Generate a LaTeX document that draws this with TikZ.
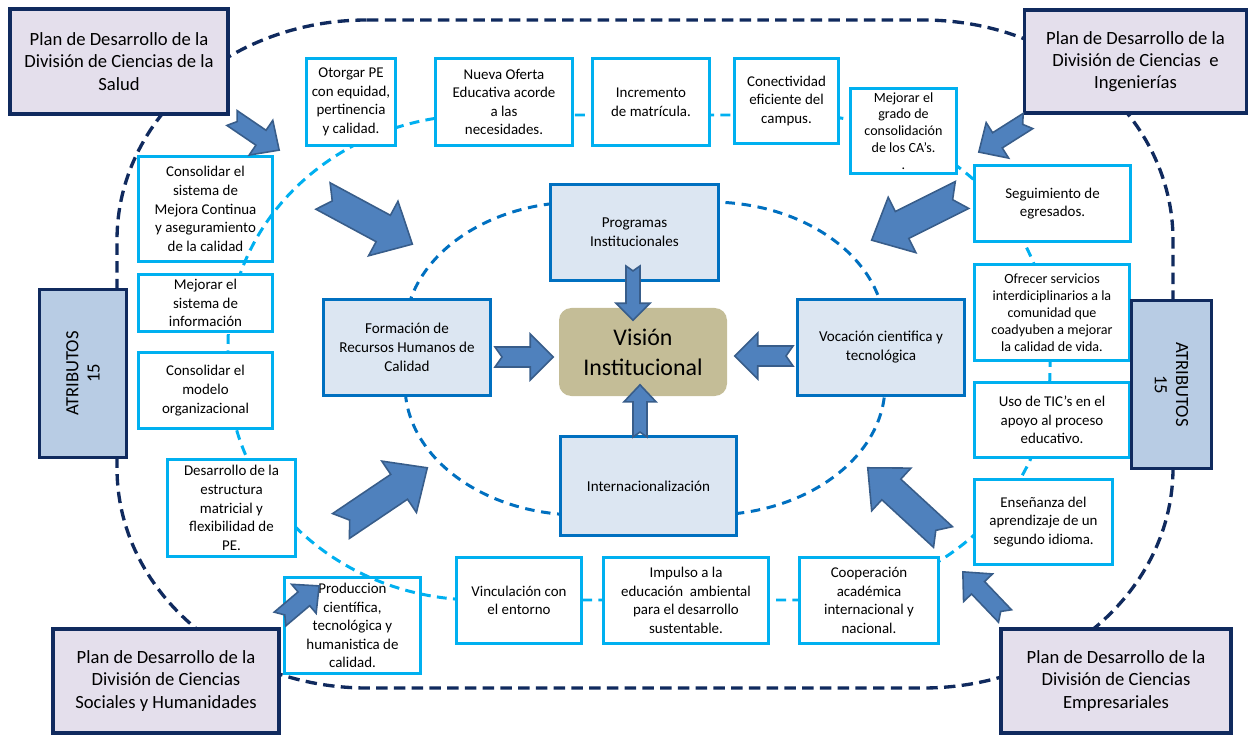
\documentclass[tikz,border=0pt]{standalone}
\usepackage{fontspec}
\setmainfont{Carlito}
\usetikzlibrary{calc}

\definecolor{navy}{HTML}{102A5E}
\definecolor{lavender}{HTML}{E4DFEC}
\definecolor{steel}{HTML}{B8CCE4}
\definecolor{skyline}{HTML}{00B0F0}
\definecolor{ejeline}{HTML}{0070C0}
\definecolor{ejefill}{HTML}{DCE6F2}
\definecolor{khaki}{HTML}{C4BD97}
\definecolor{arrfill}{HTML}{4F81BD}
\definecolor{arredge}{HTML}{385D8A}

\newcommand{\ovalframe}[7]{%
  \draw[#1] ({#2+#6},#3) -- ({#4-#6},#3)
    .. controls ({#4-0.448*#6},#3) and (#4,{#3+0.448*#7}) .. (#4,{#3+#7})
    -- (#4,{#5-#7})
    .. controls (#4,{#5-0.448*#7}) and ({#4-0.448*#6},#5) .. ({#4-#6},#5)
    -- ({#2+#6},#5)
    .. controls ({#2+0.448*#6},#5) and (#2,{#5-0.448*#7}) .. (#2,{#5-#7})
    -- (#2,{#3+#7})
    .. controls (#2,{#3+0.448*#7}) and ({#2+0.448*#6},#3) .. ({#2+#6},#3) -- cycle;}

\newcommand{\blockarrow}[5]{%
  \path let \p1=($(#2)-(#1)$) in
    \pgfextra{\pgfmathparse{atan2(\y1,\x1)}\xdef\arrang{\pgfmathresult}%
      \pgfmathparse{veclen(\x1,\y1)/0.56693}\xdef\arrlen{\pgfmathresult}};
  \begin{scope}[shift={(#1)}, rotate=\arrang]
    \draw[fatarr] (0,#3) -- ({\arrlen-#5},#3) -- ({\arrlen-#5},#4) -- (\arrlen,0)
      -- ({\arrlen-#5},-#4) -- ({\arrlen-#5},-#3) -- (0,-#3) -- ({0.7*#3},0) -- cycle;
  \end{scope}}

\begin{document}
\begin{tikzpicture}[x=0.02cm, y=-0.02cm,
    sz/.style 2 args={minimum width=#1*0.02cm, minimum height=#2*0.02cm},
    plan/.style={draw=navy, line width=1.9pt, fill=lavender, align=center, inner sep=1pt,
      font=\fontsize{10.6}{12.6}\selectfont},
    attr/.style={draw=navy, line width=1.9pt, fill=steel, align=center, inner sep=1pt,
      font=\fontsize{10.6}{12}\selectfont},
    meta/.style={draw=skyline, line width=1.7pt, fill=white, align=center, inner sep=1pt,
      font=\fontsize{8.5}{10.6}\selectfont},
    eje/.style={draw=ejeline, line width=1.7pt, fill=ejefill, align=center, inner sep=1pt,
      font=\fontsize{8.6}{10.8}\selectfont},
    vision/.style={fill=khaki, rounded corners=7pt, align=center, inner sep=1pt,
      font=\fontsize{13.6}{17}\selectfont},
    navyframe/.style={draw=navy, line width=1.9pt, dash pattern=on 6.5pt off 3.6pt},
    skyframe/.style={draw=skyline, line width=1.7pt, dash pattern=on 5.6pt off 3.6pt},
    ejeframe/.style={draw=ejeline, line width=1.7pt, dash pattern=on 5.4pt off 3.8pt},
    fatarr/.style={fill=arrfill, draw=arredge, line width=0.9pt, line join=miter}]
  \useasboundingbox (0,0) rectangle (1250,736);

  \ovalframe{navyframe}{117}{20}{1173}{688}{250}{220}
  \ovalframe{ejeframe}{405}{202}{885}{515}{175}{130}

  \node[meta, sz={134}{105}] (calidad) at (205.5,209) {Consolidar el\\sistema de\\Mejora Continua\\y aseguramiento\\de la calidad};
  \node[meta, sz={136}{96}] (produccion) at (352.5,625.5) {Produccion\\científica,\\tecnológica y\\humanistica de\\calidad.};

  \ovalframe{skyframe}{228}{115}{1050}{600}{250}{230}

  \node[meta, sz={89}{87}] (otorgar) at (351,102) {Otorgar PE\\con equidad,\\pertinencia\\y calidad.};
  \node[meta, sz={137}{87}] (oferta) at (504,102) {Nueva Oferta\\Educativa acorde\\a las\\necesidades.};
  \node[meta, sz={117}{87}] (matricula) at (651,102) {Incremento\\de matrícula.};
  \node[meta, sz={104}{85}] (campus) at (786.5,101) {Conectividad\\eficiente del\\campus.};
  \node[meta, sz={106}{85}, font=\fontsize{8}{9.6}\selectfont] (cuerpos) at (903.5,131) {Mejorar el\\grado de\\consolidación\\de los CA’s.\\.};
  \node[meta, sz={156}{76}] (egresados) at (1052.5,203.5) {Seguimiento de\\egresados.};
  \node[meta, sz={155}{96}, font=\fontsize{8}{9.6}\selectfont] (servicios) at (1052,312.5) {Ofrecer servicios\\interdiciplinarios a la\\comunidad que\\coadyuben a mejorar\\la calidad de vida.};
  \node[meta, sz={155}{75}] (tic) at (1052,420) {Uso de TIC’s en el\\apoyo al proceso\\educativo.};
  \node[meta, sz={138}{85}] (idioma) at (1043.5,522) {Enseñanza del\\aprendizaje de un\\segundo idioma.};
  \node[meta, sz={139}{86}] (cooperacion) at (869,600.5) {Cooperación\\académica\\internacional y\\nacional.};
  \node[meta, sz={165}{86}] (ambiental) at (686,600.5) {Impulso a la\\educación~ ambiental\\para el desarrollo\\sustentable.};
  \node[meta, sz={125}{86}] (vinculacion) at (519,600.5) {Vinculación con\\el entorno};
  \node[meta, sz={128}{97}] (matricial) at (231.5,508) {Desarrollo de la\\estructura\\matricial y\\flexibilidad de\\PE.};
  \node[meta, sz={134}{76}] (modelo) at (205.5,390.5) {Consolidar el\\modelo\\organizacional};
  \node[meta, sz={134}{57}] (informacion) at (205.5,303) {Mejorar el\\sistema de\\información};

  \node[plan, sz={218}{105}] (salud) at (119,61.5) {Plan de Desarrollo de la\\División de Ciencias de la\\Salud};
  \node[plan, sz={222}{103}] (ingenierias) at (1135.5,61.5) {Plan de Desarrollo de la\\División de Ciencias~ e\\Ingenierías};
  \node[plan, sz={226}{104}] (sociales) at (166,681) {Plan de Desarrollo de la\\División de Ciencias\\Sociales y Humanidades};
  \node[plan, sz={230}{104}] (empresariales) at (1116,681) {Plan de Desarrollo de la\\División de Ciencias\\Empresariales};
  \node[attr, rotate=90, sz={168}{87}] (atribizq) at (83,373.5) {ATRIBUTOS\\15};
  \node[attr, rotate=-90, sz={168}{80}] (atribder) at (1171.5,384.5) {ATRIBUTOS\\15};

  \node[eje, sz={168}{96}] (programas) at (634.5,232.5) {Programas\\Institucionales};
  \node[eje, sz={167}{96}] (formacion) at (407,347.5) {Formación de\\Recursos Humanos de\\Calidad};
  \node[eje, sz={167}{96}] (vocacion) at (881,347.5) {Vocación cientifica y\\tecnológica};
  \node[eje, sz={176}{99}] (internac) at (648.5,486) {Internacionalización};
  \node[vision, sz={168}{88}] (vis) at (643,352) {Visión\\Institucional};

  \coordinate (a1s) at (232,118);  \coordinate (a1e) at (279,150);
  \coordinate (a2s) at (323,196);  \coordinate (a2e) at (412,244);
  \coordinate (a3s) at (1028,121); \coordinate (a3e) at (979,152);
  \coordinate (a4s) at (962,195);  \coordinate (a4e) at (872,240);
  \coordinate (a5s) at (341,526);  \coordinate (a5e) at (427,468);
  \coordinate (a6s) at (280,619);  \coordinate (a6e) at (319,586);
  \coordinate (a7s) at (943,537);  \coordinate (a7e) at (868,468);
  \coordinate (a8s) at (1005,616); \coordinate (a8e) at (963,572);
  \coordinate (p1s) at (633,266);  \coordinate (p1e) at (633,320);
  \coordinate (p2s) at (495,357);  \coordinate (p2e) at (553,357);
  \coordinate (p3s) at (793,356);  \coordinate (p3e) at (735,356);
  \coordinate (p4s) at (640,437);  \coordinate (p4e) at (640,385);

  \blockarrow{a1s}{a1e}{9}{21}{22}
  \blockarrow{a2s}{a2e}{15}{31}{33}
  \blockarrow{a3s}{a3e}{9}{21}{22}
  \blockarrow{a4s}{a4e}{15}{31}{34}
  \blockarrow{a5s}{a5e}{15}{31}{34}
  \blockarrow{a6s}{a6e}{9}{19}{20}
  \blockarrow{a7s}{a7e}{14}{29}{32}
  \blockarrow{a8s}{a8e}{9}{20}{22}
  \blockarrow{p1s}{p1e}{7}{17}{17}
  \blockarrow{p2s}{p2e}{10}{23}{23}
  \blockarrow{p3s}{p3e}{10}{23}{23}
  \blockarrow{p4s}{p4e}{7}{16}{17}
\end{tikzpicture}
\end{document}
